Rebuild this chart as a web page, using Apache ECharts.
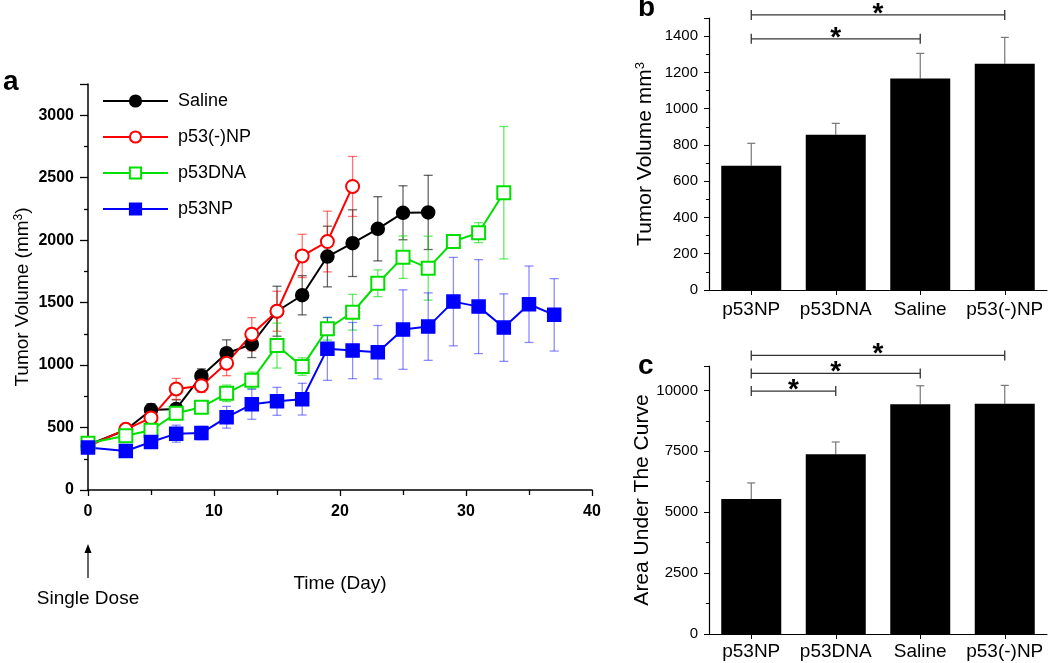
<!DOCTYPE html>
<html>
<head>
<meta charset="utf-8">
<script src="https://cdn.jsdelivr.net/npm/echarts@6/dist/echarts.min.js"></script>
<style>
html,body{margin:0;padding:0;background:#fff;}
#main{width:1050px;height:663px;}
</style>
</head>
<body>
<div id="main"></div>
<script>
// ---------- Panel a data ----------
const salineDays = [0, 3, 5, 7, 9, 11, 13, 15, 17, 19, 21, 23, 25, 27];
const salineVals = [360, 480, 641, 649, 913, 1095, 1167, 1431, 1559, 1869, 1976, 2091, 2219, 2222];
const salineErr  = [20, 30, 50, 73, 57, 107, 107, 200, 157, 243, 267, 257, 216, 297];

const negNPDays = [0, 3, 5, 7, 9, 11, 13, 15, 17, 19, 21];
const negNPVals = [350, 486, 577, 809, 835, 1015, 1247, 1431, 1874, 1989, 2430];
const negNPErr  = [20, 30, 25, 84, 53, 100, 133, 160, 173, 243, 240];

const dnaDays = [0, 3, 5, 7, 9, 11, 13, 15, 17, 19, 21, 23, 25, 27, 29, 31, 33];
const dnaVals = [375, 435, 478, 614, 662, 774, 878, 1156, 988, 1290, 1423, 1655, 1864, 1776, 1989, 2060, 2380];
const dnaErr  = [20, 30, 35, 40, 30, 66, 66, 180, 70, 90, 143, 107, 170, 256, 30, 80, 530];

const npDays = [0, 3, 5, 7, 9, 11, 13, 15, 17, 19, 21, 23, 25, 27, 29, 31, 33, 35, 37];
const npVals = [340, 312, 384, 451, 456, 582, 686, 710, 727, 1130, 1116, 1103, 1284, 1308, 1508, 1468, 1300, 1487, 1402];
const npErr  = [20, 30, 35, 68, 53, 87, 120, 112, 127, 252, 225, 214, 318, 270, 354, 376, 270, 306, 290];

const xTicksA = [0, 10, 20, 30, 40];
const yTicksA = [0, 500, 1000, 1500, 2000, 2500, 3000];

// ---------- Panel b / c data ----------
const barCategories = ['p53NP', 'p53DNA', 'Saline', 'p53(-)NP'];
const tumorVolume = [685, 856, 1167, 1248];
const tumorVolumeErr = [124, 63, 138, 145];
const auc = [5545, 7377, 9426, 9451];
const aucErr = [655, 504, 763, 754];
// significance brackets: [fromIndex, toIndex, level]
const sigB = [[0, 3, 1517], [0, 2, 1385]];
const sigC = [[0, 3, 11434], [0, 2, 10697], [0, 1, 9971]];

const FONT = 'Liberation Sans, Arial, Helvetica, sans-serif';

function pairs(xs, ys) { return xs.map((x, i) => [x, ys[i]]); }

function errSeriesA(xs, ys, es, color) {
  return {
    type: 'custom', xAxisIndex: 0, yAxisIndex: 0, silent: true, z: 1,
    data: xs.map((x, i) => [x, ys[i] - es[i], ys[i] + es[i]]),
    renderItem: function (params, api) {
      const lo = api.coord([api.value(0), api.value(1)]);
      const hi = api.coord([api.value(0), api.value(2)]);
      const w = 4.5;
      const st = { stroke: color, lineWidth: 1.3 };
      return { type: 'group', children: [
        { type: 'line', shape: { x1: lo[0], y1: lo[1], x2: hi[0], y2: hi[1] }, style: st },
        { type: 'line', shape: { x1: lo[0] - w, y1: lo[1], x2: lo[0] + w, y2: lo[1] }, style: st },
        { type: 'line', shape: { x1: hi[0] - w, y1: hi[1], x2: hi[0] + w, y2: hi[1] }, style: st }
      ]};
    }
  };
}

function lineSeries(name, xs, ys, color, symbol) {
  return {
    name: name, type: 'line', xAxisIndex: 0, yAxisIndex: 0,
    data: pairs(xs, ys), symbol: symbol, symbolSize: 13, showSymbol: true,
    lineStyle: { color: color, width: 2 },
    itemStyle: { color: color, borderColor: color, borderWidth: 1.5 },
    z: 3, animation: false
  };
}

function barSeries(idx, vals) {
  return {
    type: 'bar', xAxisIndex: idx, yAxisIndex: idx, data: vals,
    barWidth: 60, itemStyle: { color: '#000' }, z: 2, animation: false, silent: true
  };
}

function barErrSeries(idx, vals, errs) {
  return {
    type: 'custom', xAxisIndex: idx, yAxisIndex: idx, silent: true, z: 1,
    data: vals.map((v, i) => [i, v, v + errs[i]]),
    renderItem: function (params, api) {
      const lo = api.coord([api.value(0), api.value(1)]);
      const hi = api.coord([api.value(0), api.value(2)]);
      const w = 4;
      const st = { stroke: '#777', lineWidth: 1.2 };
      return { type: 'group', children: [
        { type: 'line', shape: { x1: lo[0], y1: lo[1], x2: hi[0], y2: hi[1] }, style: st },
        { type: 'line', shape: { x1: hi[0] - w, y1: hi[1], x2: hi[0] + w, y2: hi[1] }, style: st }
      ]};
    }
  };
}

function sigSeries(idx, data) {
  return {
    type: 'custom', xAxisIndex: idx, yAxisIndex: idx, silent: true, clip: false, z: 5,
    data: data,
    renderItem: function (params, api) {
      const a = api.coord([api.value(0), api.value(2)]);
      const b = api.coord([api.value(1), api.value(2)]);
      const st = { stroke: '#333', lineWidth: 1.3 };
      const h = 5;
      return { type: 'group', children: [
        { type: 'line', shape: { x1: a[0], y1: a[1], x2: b[0], y2: b[1] }, style: st },
        { type: 'line', shape: { x1: a[0], y1: a[1] - h, x2: a[0], y2: a[1] + h }, style: st },
        { type: 'line', shape: { x1: b[0], y1: b[1] - h, x2: b[0], y2: b[1] + h }, style: st },
        { type: 'text', style: { text: '*', x: (a[0] + b[0]) / 2, y: a[1] - 1, align: 'center', verticalAlign: 'middle',
          font: 'bold 28px ' + FONT, fill: '#000' } }
      ]};
    }
  };
}

const axisLineBlack = { show: true, lineStyle: { color: '#000', width: 1.5 } };

const option = {
  animation: false,
  backgroundColor: '#fff',
  textStyle: { fontFamily: FONT },
  grid: [
    { left: 88, top: 84, width: 504, height: 406 },
    { left: 709, top: 18, width: 338, height: 272 },
    { left: 709, top: 366, width: 338, height: 268 }
  ],
  legend: {
    data: ['Saline', 'p53(-)NP', 'p53DNA', 'p53NP'],
    orient: 'vertical', left: 97, top: 87,
    itemWidth: 65, itemHeight: 14, itemGap: 18,
    textStyle: { fontSize: 18, color: '#000', fontFamily: FONT, padding: [0, 0, 0, 5] },
    selectedMode: false
  },
  xAxis: [
    {
      gridIndex: 0, type: 'value', min: 0, max: 40, interval: 10,
      axisLine: axisLineBlack,
      axisTick: { show: true, length: 6, lineStyle: { color: '#000', width: 1.3 } },
      minorTick: { show: true, splitNumber: 2, length: 5, lineStyle: { color: '#000', width: 1.3 } },
      splitLine: { show: false },
      axisLabel: { fontSize: 16, fontWeight: 'bold', color: '#000', margin: 14, fontFamily: FONT,
        formatter: v => (xTicksA.indexOf(v) >= 0 ? String(v) : '') },
      name: 'Time (Day)', nameLocation: 'middle', nameGap: 84,
      nameTextStyle: { fontSize: 19, color: '#000', fontFamily: FONT }
    },
    {
      gridIndex: 1, type: 'category', data: barCategories,
      axisLine: { show: true, lineStyle: { color: '#000', width: 1.2 } },
      axisTick: { show: true, alignWithLabel: true, length: 5, lineStyle: { color: '#000' } },
      axisLabel: { interval: 0, fontSize: 19, color: '#000', margin: 10, fontFamily: FONT }
    },
    {
      gridIndex: 2, type: 'category', data: barCategories,
      axisLine: { show: true, lineStyle: { color: '#000', width: 1.2 } },
      axisTick: { show: true, alignWithLabel: true, length: 5, lineStyle: { color: '#000' } },
      axisLabel: { interval: 0, fontSize: 19, color: '#000', margin: 8, fontFamily: FONT }
    }
  ],
  yAxis: [
    {
      gridIndex: 0, type: 'value', min: 0, max: 3250, interval: 500,
      axisLine: axisLineBlack,
      axisTick: { show: true, length: 8, lineStyle: { color: '#000', width: 1.3 } },
      minorTick: { show: true, splitNumber: 2, length: 4, lineStyle: { color: '#000', width: 1.3 } },
      splitLine: { show: false },
      axisLabel: { fontSize: 16, fontWeight: 'bold', color: '#000', margin: 14, fontFamily: FONT, showMaxLabel: false,
        formatter: v => (yTicksA.indexOf(v) >= 0 ? String(v) : '') },
      name: 'Tumor Volume (mm{sup|3})', nameLocation: 'middle', nameGap: 55,
      nameTextStyle: { fontSize: 19, color: '#000', fontFamily: FONT, padding: [0, 20, 0, 0],
        rich: { sup: { fontSize: 12, verticalAlign: 'top', color: '#000', padding: [0, 0, 8, 0] } } }
    },
    {
      gridIndex: 1, type: 'value', min: 0, max: 1500, interval: 200,
      axisLine: { show: true, lineStyle: { color: '#000', width: 1.2 } },
      axisTick: { show: true, length: 5, lineStyle: { color: '#000' } },
      minorTick: { show: true, splitNumber: 2, length: 3, lineStyle: { color: '#000' } },
      splitLine: { show: false },
      axisLabel: { fontSize: 15, color: '#000', margin: 11, fontFamily: FONT, showMaxLabel: false,
        formatter: v => (v <= 1400 ? String(v) : '') },
      name: 'Tumor Volume mm{sup|3}', nameLocation: 'middle', nameGap: 52,
      nameTextStyle: { fontSize: 21, color: '#000', fontFamily: FONT,
        rich: { sup: { fontSize: 13, color: '#000', padding: [0, 0, 10, 0] } } }
    },
    {
      gridIndex: 2, type: 'value', min: 0, max: 11000, interval: 2500,
      axisLine: { show: true, lineStyle: { color: '#000', width: 1.2 } },
      axisTick: { show: true, length: 5, lineStyle: { color: '#000' } },
      minorTick: { show: true, splitNumber: 2, length: 3, lineStyle: { color: '#000' } },
      splitLine: { show: false },
      axisLabel: { fontSize: 15, color: '#000', margin: 11, fontFamily: FONT, showMaxLabel: false,
        formatter: v => (v <= 10000 ? String(v) : '') },
      name: 'Area Under The Curve', nameLocation: 'middle', nameGap: 52,
      nameTextStyle: { fontSize: 21, color: '#000', fontFamily: FONT }
    }
  ],
  graphic: [
    { type: 'text', left: 3, top: 68, style: { text: 'a', font: 'bold 28px ' + FONT, fill: '#000' } },
    { type: 'text', left: 638, top: -6, style: { text: 'b', font: 'bold 28px ' + FONT, fill: '#000' } },
    { type: 'text', left: 638, top: 352, style: { text: 'c', font: 'bold 28px ' + FONT, fill: '#000' } },
    { type: 'line', shape: { x1: 88, y1: 578, x2: 88, y2: 550 }, style: { stroke: '#000', lineWidth: 1.2 } },
    { type: 'polygon', shape: { points: [[88, 544], [84.5, 553], [91.5, 553]] }, style: { fill: '#000' } },
    { type: 'text', x: 88, y: 599, style: { text: 'Single Dose', font: '19px ' + FONT, fill: '#000', align: 'center', verticalAlign: 'middle' } }
  ],
  series: [
    errSeriesA(salineDays, salineVals, salineErr, 'rgba(0,0,0,0.6)'),
    errSeriesA(negNPDays, negNPVals, negNPErr, 'rgba(255,0,0,0.55)'),
    errSeriesA(dnaDays, dnaVals, dnaErr, 'rgba(0,220,0,0.6)'),
    errSeriesA(npDays, npVals, npErr, 'rgba(0,0,255,0.45)'),
    lineSeries('Saline', salineDays, salineVals, '#000', 'circle'),
    lineSeries('p53(-)NP', negNPDays, negNPVals, '#ff0000', 'emptyCircle'),
    lineSeries('p53DNA', dnaDays, dnaVals, '#00e000', 'emptyRect'),
    lineSeries('p53NP', npDays, npVals, '#0000ff', 'rect'),
    barErrSeries(1, tumorVolume, tumorVolumeErr),
    barSeries(1, tumorVolume),
    sigSeries(1, sigB),
    barErrSeries(2, auc, aucErr),
    barSeries(2, auc),
    sigSeries(2, sigC)
  ]
};

const chart = echarts.init(document.getElementById('main'), null, { renderer: 'canvas' });
chart.setOption(option);
</script>
</body>
</html>
